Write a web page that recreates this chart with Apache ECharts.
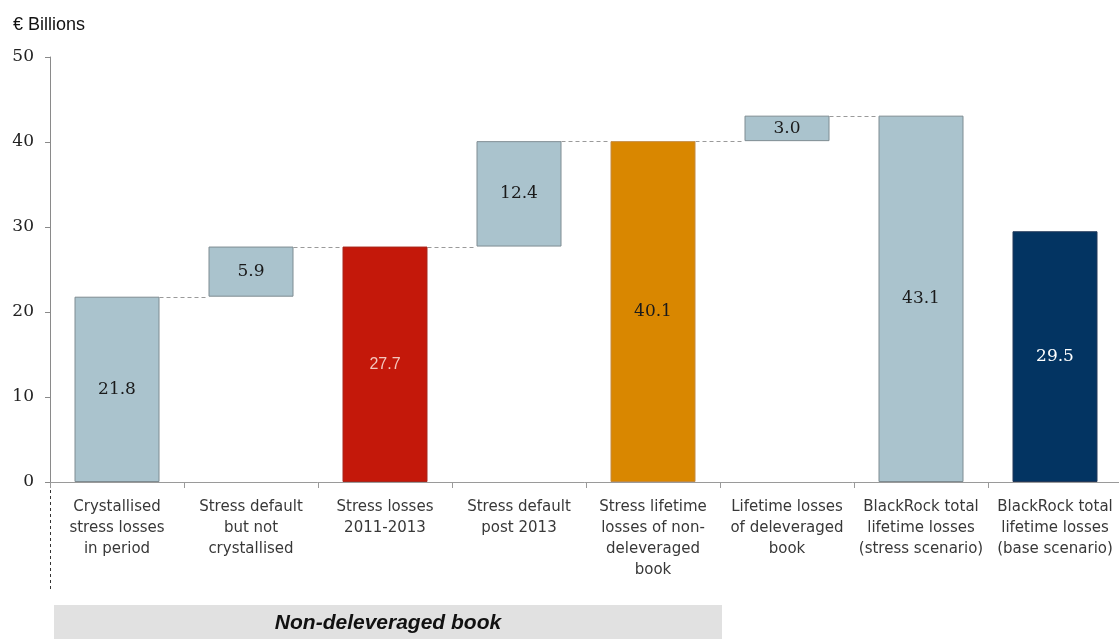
<!DOCTYPE html>
<html>
<head>
<meta charset="utf-8">
<script src="https://cdn.jsdelivr.net/npm/echarts@6/dist/echarts.min.js"></script>
<style>
html,body{margin:0;padding:0;background:#fff;}
#chart{width:1119px;height:639px;}
</style>
</head>
<body>
<div id="chart"></div>
<script>
// ---- data ----
var categories = [
  "Crystallised\nstress losses\nin period",
  "Stress default\nbut not\ncrystallised",
  "Stress losses\n2011-2013",
  "Stress default\npost 2013",
  "Stress lifetime\nlosses of non-\ndeleveraged\nbook",
  "Lifetime losses\nof deleveraged\nbook",
  "BlackRock total\nlifetime losses\n(stress scenario)",
  "BlackRock total\nlifetime losses\n(base scenario)"
];
var barValues = [21.8, 5.9, 27.7, 12.4, 40.1, 3.0, 43.1, 29.5];
var barBases  = [0, 21.8, 0, 27.7, 0, 40.1, 0, 0];
var connectorFrom   = [0, 1, 2, 3, 4, 5];
var connectorLevels = [21.8, 27.7, 27.7, 40.1, 40.1, 43.1];
var yTicks = [0, 10, 20, 30, 40, 50];

// ---- styles ----
var LIGHT = '#aac3cd', LIGHT_B = '#7f8c92';
var fills   = [LIGHT, LIGHT, '#c4180a', LIGHT, '#d98700', LIGHT, LIGHT, '#033462'];
var borders = [LIGHT_B, LIGHT_B, '#a8271c', LIGHT_B, '#c38a40', LIGHT_B, LIGHT_B, '#22395a'];
var BAR_W = 85;

var valueData = barValues.map(function (v, i) {
  var item = {
    value: v,
    itemStyle: { color: fills[i], borderColor: borders[i], borderWidth: 1 }
  };
  if (i === 2) {
    item.label = { color: '#f3c6bd', fontFamily: 'Liberation Sans', fontSize: 16 };
  } else if (i === 7) {
    item.label = { color: '#ffffff' };
  }
  return item;
});

var connectorData = connectorFrom.map(function (f, k) { return [f, connectorLevels[k]]; });

var chart = echarts.init(document.getElementById('chart'));
chart.setOption({
  animation: false,
  backgroundColor: '#ffffff',
  grid: { left: 50, right: -3, top: 57, bottom: 157, containLabel: false, outerBoundsMode: 'none' },
  xAxis: {
    type: 'category',
    data: categories,
    axisLine: { lineStyle: { color: '#9a9a9a', width: 1 } },
    axisTick: { show: true, length: 6, lineStyle: { color: '#9a9a9a' } },
    axisLabel: {
      interval: 0, margin: 15, color: '#383838',
      fontFamily: 'DejaVu Sans', fontSize: 15, lineHeight: 21, align: 'center'
    }
  },
  yAxis: {
    type: 'value',
    min: yTicks[0], max: yTicks[yTicks.length - 1], interval: yTicks[1] - yTicks[0],
    axisLine: { show: true, lineStyle: { color: '#8a8a8a', width: 1 } },
    axisTick: { show: true, length: 5, lineStyle: { color: '#8a8a8a' } },
    splitLine: { show: false },
    axisLabel: { margin: 16, color: '#222222', fontFamily: 'DejaVu Serif', fontSize: 17 }
  },
  series: [
    {
      type: 'bar', stack: 'w', barWidth: BAR_W, silent: true,
      itemStyle: { color: 'rgba(0,0,0,0)' },
      data: barBases
    },
    {
      type: 'bar', stack: 'w', barWidth: BAR_W,
      data: valueData,
      label: {
        show: true, position: 'inside', color: '#1a1a1a',
        fontFamily: 'DejaVu Serif', fontSize: 17,
        formatter: function (p) { return p.value.toFixed(1); }
      }
    },
    {
      type: 'custom',
      data: connectorData,
      z: 1,
      renderItem: function (params, api) {
        var i = api.value(0), y = api.value(1);
        var p0 = api.coord([i, y]);
        var p1 = api.coord([i + 1, y]);
        var hw = BAR_W / 2;
        var yy = Math.round(p0[1]) + 0.5;
        return {
          type: 'line',
          shape: { x1: p0[0] + hw, y1: yy, x2: p1[0] - hw, y2: yy },
          style: { stroke: '#9a9a9a', lineWidth: 1, lineDash: [4, 3] }
        };
      }
    }
  ],
  graphic: [
    {
      type: 'text', left: 13, top: 16,
      style: { text: '€ Billions', font: '18px "Liberation Sans"', fill: '#111111' }
    },
    {
      type: 'line',
      shape: { x1: 50.5, y1: 484, x2: 50.5, y2: 591 },
      style: { stroke: '#333333', lineWidth: 1, lineDash: [3, 3] }
    },
    {
      type: 'rect',
      shape: { x: 54, y: 605, width: 668, height: 40 },
      style: { fill: '#e1e1e1' }
    },
    {
      type: 'text', x: 388, y: 623,
      style: {
        text: 'Non-deleveraged book', font: 'italic bold 21px "Liberation Sans"',
        fill: '#111111', align: 'center', verticalAlign: 'middle'
      }
    }
  ]
});
</script>
</body>
</html>
